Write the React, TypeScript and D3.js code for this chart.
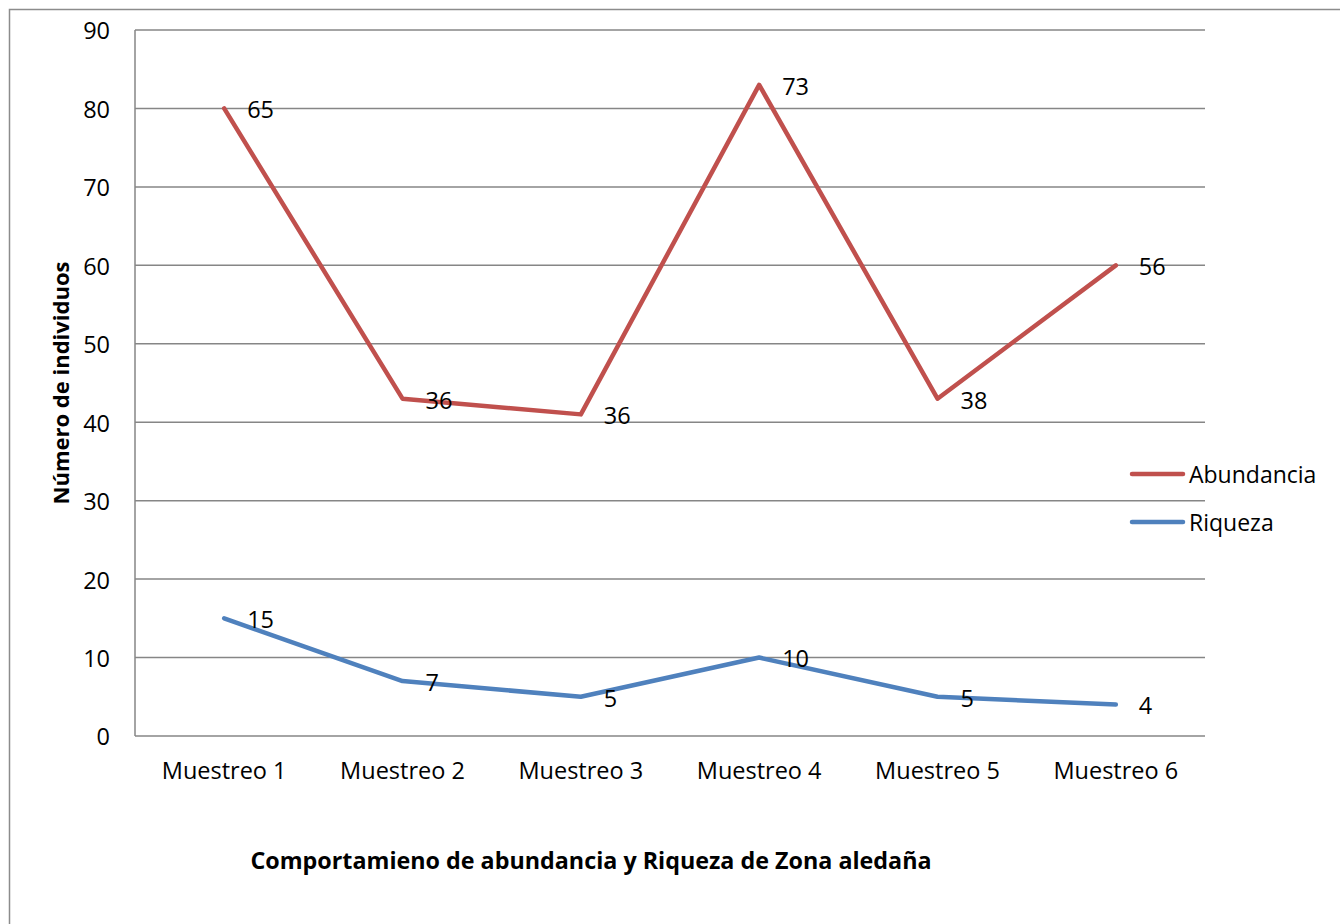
import React from "react";
import * as d3 from "d3";

const categories = ["Muestreo 1", "Muestreo 2", "Muestreo 3", "Muestreo 4", "Muestreo 5", "Muestreo 6"];
const abundanciaValues = [80, 43, 41, 83, 43, 60];
const abundanciaLabels = ["65", "36", "36", "73", "38", "56"];
const riquezaValues = [15, 7, 5, 10, 5, 4];
const riquezaLabels = ["15", "7", "5", "10", "5", "4"];
const yTicks = [0, 10, 20, 30, 40, 50, 60, 70, 80, 90];

const W = 1340;
const H = 924;
const plot = { left: 135, right: 1205, top: 30, bottom: 736 };
const FONT = "'Open Sans', Lato, sans-serif";

export default function App() {
  const x = d3.scaleBand().domain(categories).range([plot.left, plot.right]);
  const y = d3.scaleLinear().domain([0, 90]).range([plot.bottom, plot.top]);
  const cx = (c: string) => (x(c) as number) + x.bandwidth() / 2;
  const line = d3
    .line<number>()
    .x((_, i) => cx(categories[i]))
    .y((d) => y(d));

  const series = [
    { name: "Abundancia", values: abundanciaValues, labels: abundanciaLabels, color: "#C0504D" },
    { name: "Riqueza", values: riquezaValues, labels: riquezaLabels, color: "#4F81BD" },
  ];

  return (
    <svg width={W} height={H} style={{ position: "absolute", left: 0, top: 0 }} fontFamily={FONT}>
      <rect x={0} y={0} width={W} height={H} fill="#fff" />
      <rect x={9.5} y={9.5} width={W + 20} height={H + 20} fill="none" stroke="#8c8c8c" strokeWidth={1.5} />
      {yTicks.map((t) => (
        <g key={t}>
          <line x1={plot.left} x2={plot.right} y1={y(t)} y2={y(t)} stroke="#868686" strokeWidth={1.5} />
          <text x={110} y={y(t)} dy="0.4em" textAnchor="end" fontSize={23.5} fill="#000">
            {t}
          </text>
        </g>
      ))}
      <line x1={plot.left} x2={plot.left} y1={plot.top} y2={plot.bottom} stroke="#868686" strokeWidth={1.5} />
      {categories.map((c) => (
        <text key={c} x={cx(c)} y={770} dy="0.4em" textAnchor="middle" fontSize={23.5} fill="#000">
          {c}
        </text>
      ))}
      {series.map((s) => (
        <g key={s.name}>
          <path d={line(s.values) as string} fill="none" stroke={s.color} strokeWidth={4.5} strokeLinejoin="round" strokeLinecap="round" />
          {s.values.map((v, i) => (
            <text key={i} x={cx(categories[i]) + 23} y={y(v)} dy="0.42em" fontSize={23.5} fill="#000">
              {s.labels[i]}
            </text>
          ))}
        </g>
      ))}
      {series.map((s, i) => (
        <g key={s.name}>
          <line x1={1132} x2={1183} y1={474 + i * 48} y2={474 + i * 48} stroke={s.color} strokeWidth={4.5} strokeLinecap="round" />
          <text x={1189} y={474 + i * 48} dy="0.38em" fontSize={23} fill="#000">
            {s.name}
          </text>
        </g>
      ))}
      <text transform="translate(61,383) rotate(-90)" textAnchor="middle" dy="0.35em" fontSize={22} fontWeight="bold" fill="#000">
        Número de individuos
      </text>
      <text x={591} y={860} dy="0.38em" textAnchor="middle" fontSize={23.3} fontWeight="bold" fill="#000">
        Comportamieno de abundancia y Riqueza de Zona aledaña
      </text>
    </svg>
  );
}
